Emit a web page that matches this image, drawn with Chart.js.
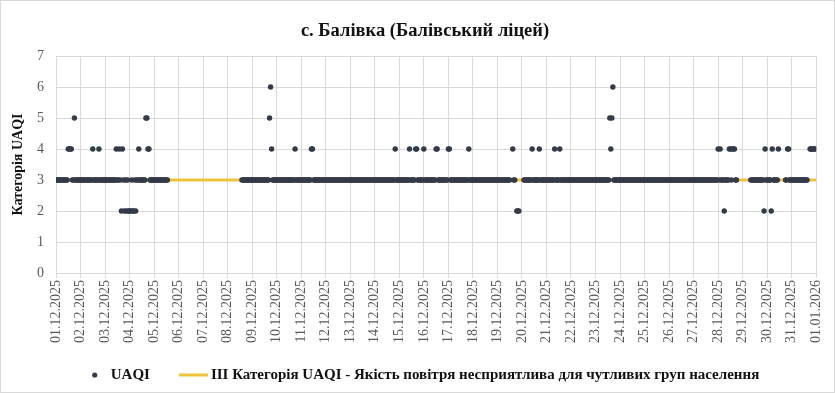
<!DOCTYPE html>
<html>
<head>
<meta charset="utf-8">
<script src="https://cdn.jsdelivr.net/npm/chart.js@4.4.1/dist/chart.umd.min.js"></script>
<style>
  html, body { margin: 0; padding: 0; background: #fff; }
  #wrap { width: 835px; height: 393px; }
</style>
</head>
<body>
<div id="wrap"><canvas id="uaqiChart" width="835" height="393"></canvas></div>
<script>
var dateLabels = [
  '01.12.2025', '02.12.2025', '03.12.2025', '04.12.2025', '05.12.2025', '06.12.2025',
  '07.12.2025', '08.12.2025', '09.12.2025', '10.12.2025', '11.12.2025', '12.12.2025',
  '13.12.2025', '14.12.2025', '15.12.2025', '16.12.2025', '17.12.2025', '18.12.2025',
  '19.12.2025', '20.12.2025', '21.12.2025', '22.12.2025', '23.12.2025', '24.12.2025',
  '25.12.2025', '26.12.2025', '27.12.2025', '28.12.2025', '29.12.2025', '30.12.2025',
  '31.12.2025', '01.01.2026'
];

// hourly UAQI category, one string per day (hours 00..23), '-' = no data
var hourlyUaqi = [
  '333333333333444433533333', // 01.12
  '333333333333433333433333', // 02.12
  '333333333334334324323232', // 03.12
  '223223233433333355443333', // 04.12
  '33333333333333----------', // 05.12
  '------------------------', // 06.12
  '------------------------', // 07.12
  '--------------3333333333', // 08.12
  '333333333333333335643333', // 09.12
  '333333333333333333433333', // 10.12
  '333333333344333333333333', // 11.12
  '333333333333333333333333', // 12.12
  '333333333333333333333333', // 13.12
  '333333333333333333334333', // 14.12
  '333333333343333344333333', // 15.12
  '433333333333443333333333', // 16.12
  '443333333333333333334333', // 17.12
  '333333333333333333333333', // 18.12
  '3333333333333--433-222--', // 19.12
  '--3333333343333334333333', // 20.12
  '333333334333343333333333', // 21.12
  '333333333333333333333333', // 22.12
  '333333333333335456333333', // 23.12
  '333333333333333333333333', // 24.12
  '333333333333333333333333', // 25.12
  '333333333333333333333333', // 26.12
  '333333333333333333333333', // 27.12
  '4343332333344344433-----', // 28.12
  '--------3333333333333243', // 29.12
  '333324333334------334433', // 30.12
  '3333333333333333--444444'  // 31.12
];

var thresholdLevel = 3;
var thresholdLabel = 'III Категорія UAQI - Якість повітря несприятлива для чутливих груп населення';
var seriesLabel = 'UAQI';
var chartTitle = 'с. Балівка (Балівський ліцей)';

var uaqiPoints = [];
hourlyUaqi.forEach(function (day, d) {
  for (var h = 0; h < day.length; h++) {
    var c = day.charAt(h);
    if (c !== '-') uaqiPoints.push({ x: d + h / 24, y: Number(c) });
  }
});

var thresholdPoints = [
  { x: 0, y: thresholdLevel },
  { x: dateLabels.length - 1, y: thresholdLevel }
];

var serif = '"Liberation Serif", "Times New Roman", serif';
var dotColor = '#333a48';
var lineColor = '#f0c33c';

// white background, outer frame, title and bottom legend
var frameAndLegend = {
  id: 'frameAndLegend',
  beforeDraw: function (chart) {
    var ctx = chart.ctx;
    ctx.save();
    ctx.fillStyle = '#fff';
    ctx.fillRect(0, 0, chart.width, chart.height);
    ctx.restore();
  },
  afterDraw: function (chart) {
    var ctx = chart.ctx;
    var sets = chart.data.datasets;
    ctx.save();
    ctx.strokeStyle = '#d9d9d9';
    ctx.lineWidth = 1;
    ctx.strokeRect(0.5, 0.5, chart.width - 1, chart.height - 1);

    ctx.font = 'bold 18.5px ' + serif;
    ctx.textAlign = 'center';
    ctx.textBaseline = 'middle';
    ctx.fillStyle = '#111';
    ctx.fillText(chartTitle, 425, 31);

    var y = 375;
    ctx.textAlign = 'left';
    ctx.font = 'bold 15px ' + serif;
    var w1 = ctx.measureText(sets[0].label).width;
    var w2 = ctx.measureText(sets[1].label).width;
    var total = 16 + w1 + 29 + 29 + 3 + w2;
    var x = 427 - total / 2;

    ctx.beginPath();
    ctx.arc(x, y, 2.6, 0, Math.PI * 2);
    ctx.fillStyle = dotColor;
    ctx.fill();
    ctx.fillStyle = '#111';
    ctx.fillText(sets[0].label, x + 16, y);

    var lx = x + 16 + w1 + 29;
    ctx.beginPath();
    ctx.moveTo(lx, y);
    ctx.lineTo(lx + 29, y);
    ctx.strokeStyle = lineColor;
    ctx.lineWidth = 3;
    ctx.stroke();
    ctx.fillText(sets[1].label, lx + 32, y);
    ctx.restore();
  }
};

new Chart(document.getElementById('uaqiChart'), {
  type: 'scatter',
  data: {
    datasets: [{
      label: seriesLabel,
      data: uaqiPoints,
      backgroundColor: dotColor,
      borderWidth: 0,
      pointRadius: 2.7,
      pointHoverRadius: 2.7
    }, {
      label: thresholdLabel,
      type: 'line',
      data: thresholdPoints,
      borderColor: lineColor,
      borderWidth: 3,
      pointRadius: 0,
      fill: false
    }]
  },
  options: {
    responsive: false,
    animation: false,
    layout: { padding: { left: 8, right: 18, top: 56, bottom: 0 } },
    plugins: {
      legend: { display: false },
      tooltip: { enabled: false },
      title: { display: false }
    },
    scales: {
      x: {
        type: 'linear',
        min: 0,
        max: dateLabels.length - 1,
        ticks: {
          stepSize: 1,
          autoSkip: false,
          minRotation: 90,
          maxRotation: 90,
          padding: 2,
          color: '#595959',
          font: { family: serif, size: 14 },
          callback: function (v) { return dateLabels[v]; }
        },
        grid: { color: '#d9d9d9', tickLength: 5 },
        border: { color: '#d9d9d9' },
        afterFit: function (s) { s.height = 120; }
      },
      y: {
        min: 0,
        max: 7,
        ticks: {
          stepSize: 1,
          padding: 12,
          color: '#595959',
          font: { family: serif, size: 14 }
        },
        grid: { color: '#d9d9d9', drawTicks: false },
        border: { display: false },
        title: {
          display: true,
          text: 'Категорія UAQI',
          color: '#111',
          font: { family: serif, size: 14, weight: 'bold' },
          padding: { top: 2, bottom: 0 }
        },
        afterFit: function (s) { s.width = 48; }
      }
    }
  },
  plugins: [frameAndLegend]
});
</script>
</body>
</html>
